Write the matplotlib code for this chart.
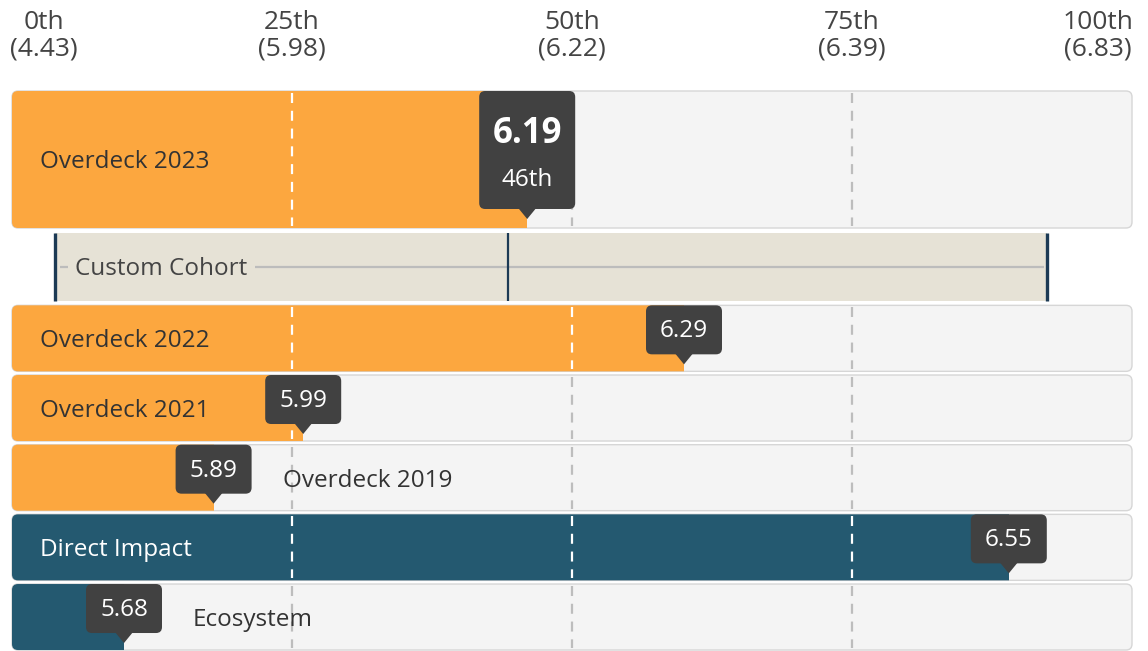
import matplotlib.pyplot as plt
from matplotlib.patches import FancyBboxPatch, Rectangle, Polygon

plt.rcParams['font.family'] = ['Open Sans', 'DejaVu Sans']

# percentile scale shown at the top
tick_pcts = [0, 25, 50, 75, 100]
tick_vals = [4.43, 5.98, 6.22, 6.39, 6.83]

# bars (score and percentile position)
bar_names = ['Overdeck 2023', 'Overdeck 2022', 'Overdeck 2021', 'Overdeck 2019',
             'Direct Impact', 'Ecosystem']
bar_scores = [6.19, 6.29, 5.99, 5.89, 6.55, 5.68]
bar_pcts = [46, 60, 26, 18, 89, 10]
bar_kind = ['overdeck', 'overdeck', 'overdeck', 'overdeck', 'direct', 'direct']

# cohort range (percentiles)
cohort_name = 'Custom Cohort'
cohort_low = 3.8
cohort_median = 44.3
cohort_high = 92.4

ORANGE = '#fca73f'
TEAL = '#245970'
TRACK = '#f4f4f4'
TRACK_EDGE = '#d6d6d6'
TIP = '#414141'
BAND = '#e6e2d6'
NAVY = '#1c3a55'
TEXT = '#333333'

W, H = 1148, 651
LEFT_PX = 12
PX = 11.2          # pixels per percentile point
R = 6 / PX         # corner radius in x units


def rbox(x, y, w, h, **kw):
    return FancyBboxPatch((x, y), w, h, boxstyle=f'round,pad=0,rounding_size={R}',
                          mutation_aspect=PX, **kw)


fig = plt.figure(figsize=(W / 100, H / 100), dpi=100)
ax = fig.add_axes([0, 0, 1, 1])
ax.set_xlim(-LEFT_PX / PX, (W - LEFT_PX) / PX)
ax.set_ylim(H, 0)
ax.axis('off')

# header labels
for p, v in zip(tick_pcts, tick_vals):
    ha = 'left' if p == 0 else ('right' if p == 100 else 'center')
    x = p - 0.2 if p == 0 else (p + 0.1 if p == 100 else p)
    ax.text(x, 10, f'{p}th\n({v:.2f})', ha=ha, va='top', multialignment='center',
            fontsize=19, color='#444444', linespacing=1.1)

# row layout
order = ['bar0', 'cohort', 'bar1', 'bar2', 'bar3', 'bar4', 'bar5']
heights = [137, 70, 66, 66, 66, 66, 66]
gap = 3.67
y = 91
tops = []
for h in heights:
    tops.append(y)
    y += h + gap

for key, top, h in zip(order, tops, heights):
    if key == 'cohort':
        ax.add_patch(Rectangle((cohort_low, top + 1), cohort_high - cohort_low, h - 2,
                               facecolor=BAND, edgecolor='none', zorder=1))
        ax.plot([cohort_low + 0.5, cohort_high - 0.3], [top + h / 2] * 2, color='#bcbcbc',
                lw=1.6, zorder=2, solid_capstyle='butt')
        for xv, lw in [(cohort_low, 2.4), (cohort_median, 1.6), (cohort_high, 2.4)]:
            ax.plot([xv, xv], [top + 1, top + h - 1], color=NAVY, lw=lw, zorder=3,
                    solid_capstyle='butt')
        ax.text((75 - LEFT_PX) / PX, top + h / 2 + 2, cohort_name, ha='left', va='center',
                fontsize=17.5, color='#444444', zorder=4,
                bbox=dict(boxstyle='square,pad=0.3', facecolor=BAND, edgecolor='none'))
        continue

    i = int(key[3:])
    pct = bar_pcts[i]
    color = ORANGE if bar_kind[i] == 'overdeck' else TEAL

    ax.add_patch(rbox(0, top, 100, h, facecolor=TRACK, edgecolor=TRACK_EDGE, lw=1, zorder=1))
    fill = rbox(0, top, 100, h, facecolor=color, edgecolor='none', zorder=2)
    ax.add_patch(fill)
    clip = Rectangle((-1, top - 1), pct + 1, h + 2, transform=ax.transData)
    fill.set_clip_path(clip)

    # dashed quartile lines: grey on the track, white on the fill
    for q in tick_pcts[1:-1]:
        ax.plot([q, q], [top + 2, top + h - 2], color='#bdbdbd', lw=1.6,
                linestyle=(0, (4.5, 3.5)), zorder=1.5)
        wl, = ax.plot([q, q], [top + 2, top + h - 2], color='white', lw=1.6,
                      linestyle=(0, (4.5, 3.5)), zorder=2.5)
        wl.set_clip_path(Rectangle((-1, top - 1), pct + 1, h + 2, transform=ax.transData))

    # tooltip
    big = i == 0
    tw = (96 if big else 76) / PX
    th = 118 if big else 49
    tip_y = top + (128 if big else 59)
    ax.add_patch(rbox(pct - tw / 2, top, tw, th, facecolor=TIP, edgecolor='none', zorder=5))
    ax.add_patch(Polygon([(pct - 9 / PX, top + th - 1), (pct + 9 / PX, top + th - 1), (pct, tip_y)],
                         closed=True, facecolor=TIP, edgecolor='none', zorder=5))
    if big:
        ax.text(pct, top + 43, f'{bar_scores[i]:.2f}', ha='center', va='center',
                fontsize=25, fontweight='bold', color='white', zorder=6)
        ax.text(pct, top + 89, f'{pct}th', ha='center', va='center',
                fontsize=17.5, color='white', zorder=6)
    else:
        ax.text(pct, top + 26, f'{bar_scores[i]:.2f}', ha='center', va='center',
                fontsize=17.5, color='white', zorder=6)

    # series label
    if pct < 20:
        lx = pct + tw / 2 + 31 / PX
        lc = TEXT
    else:
        lx = (40 - LEFT_PX) / PX
        lc = TEXT if bar_kind[i] == 'overdeck' else 'white'
    ax.text(lx, top + h / 2 + 3, bar_names[i], ha='left', va='center', fontsize=17.5,
            color=lc, zorder=4)

fig.savefig('out.png', dpi=100, facecolor='white')
